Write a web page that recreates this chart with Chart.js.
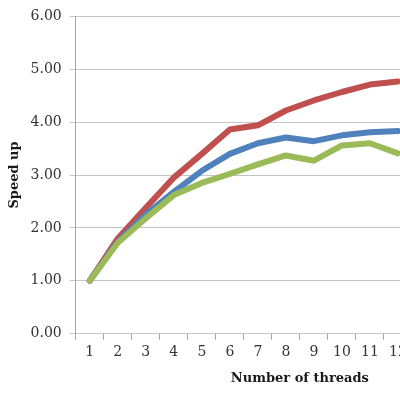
<!DOCTYPE html>
<html>
<head>
<meta charset="utf-8">
<script src="https://cdn.jsdelivr.net/npm/chart.js@4/dist/chart.umd.min.js"></script>
<style>
  html, body { margin: 0; padding: 0; background: #fff; overflow: hidden; }
  body { width: 400px; height: 395px; }
  #wrap { width: 530px; height: 395px; }
</style>
</head>
<body>
<div id="wrap"><canvas id="myChart" width="530" height="395"></canvas></div>
<script>
// thread counts on the x axis (the chart runs past the right edge of the picture)
var threads = ["1","2","3","4","5","6","7","8","9","10","11","12","13","14","15","16"]

// speed up per series (only 1..12 visible)
var redSpeedup   = [1.00, 1.80, 2.38, 2.95, 3.40, 3.86, 3.94, 4.22, 4.41, 4.57, 4.71, 4.77]
var blueSpeedup  = [1.00, 1.74, 2.25, 2.68, 3.08, 3.40, 3.60, 3.71, 3.64, 3.75, 3.81, 3.83]
var greenSpeedup = [1.00, 1.72, 2.18, 2.62, 2.85, 3.02, 3.20, 3.37, 3.27, 3.56, 3.60, 3.41]

var yTicks = [0, 1, 2, 3, 4, 5, 6]

var serif = "'DejaVu Serif', 'Liberation Serif', serif"

var ctx = document.getElementById("myChart").getContext('2d')

var chart = new Chart(ctx, {
  type: 'line',
  data: {
    labels: threads,
    datasets: [{
      label: "Series 1",
      data: redSpeedup,
      borderColor: "#C0504D",
      order: 2
    },
    {
      label: "Series 2",
      data: blueSpeedup,
      borderColor: "#4F81BD",
      order: 1
    },
    {
      label: "Series 3",
      data: greenSpeedup,
      borderColor: "#9BBB59",
      order: 0
    }]
  },
  options: {
    responsive: false,
    animation: false,
    layout: { padding: { top: 7, right: 6, left: 1, bottom: 9 } },
    elements: {
      line: { borderWidth: 6, tension: 0, borderCapStyle: 'round', borderJoinStyle: 'round' },
      point: { radius: 0 }
    },
    plugins: {
      legend: { display: false },
      tooltip: { enabled: false }
    },
    scales: {
      x: {
        offset: true,
        grid: {
          offset: true,
          drawOnChartArea: false,
          drawTicks: true,
          tickLength: 6,
          color: "#a6a6a6"
        },
        border: { display: false },
        ticks: {
          autoSkip: false,
          maxRotation: 0,
          padding: 4,
          color: "#333",
          font: { family: serif, size: 14 }
        },
        title: {
          display: true,
          text: "Number of threads",
          color: "#1a1a1a",
          font: { family: serif, size: 13, weight: 'bold' },
          padding: { top: 6, bottom: 0 }
        }
      },
      y: {
        min: 0,
        max: 6,
        afterBuildTicks: function(axis) {
          axis.ticks = yTicks.map(function(v) { return { value: v } })
        },
        grid: {
          color: "#c4c4c4",
          tickLength: 6,
          drawTicks: true
        },
        border: { display: true, color: "#a6a6a6" },
        ticks: {
          padding: 8,
          color: "#333",
          font: { family: serif, size: 14 },
          callback: function(v) { return Number(v).toFixed(2) }
        },
        title: {
          display: true,
          text: "Speed up",
          color: "#1a1a1a",
          font: { family: serif, size: 13, weight: 'bold' },
          padding: { top: 6, bottom: 0 }
        }
      }
    }
  }
})
</script>
</body>
</html>
